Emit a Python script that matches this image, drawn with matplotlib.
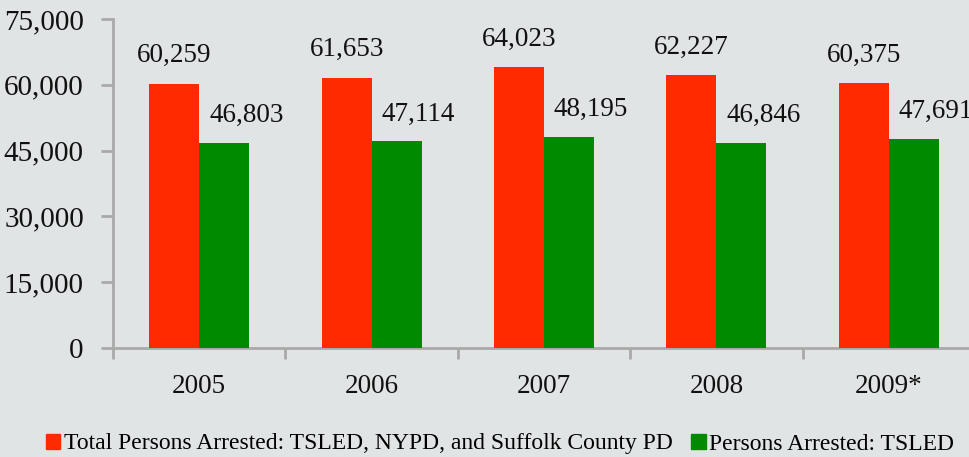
import numpy as np
import matplotlib.pyplot as plt
from matplotlib.patches import Patch

years = ['2005', '2006', '2007', '2008', '2009*']
total_arrested = [60259, 61653, 64023, 62227, 60375]
tsled_arrested = [46803, 47114, 48195, 46846, 47691]
series_names = ['Total Persons Arrested: TSLED, NYPD, and Suffolk County PD',
                'Persons Arrested: TSLED']
y_ticks = [0, 15000, 30000, 45000, 60000, 75000]

BG = '#e1e4e5'
RED = '#ff2a00'
GREEN = '#008a00'
AXIS = '#a9a9a9'

plt.rcParams['font.family'] = ['Liberation Serif', 'DejaVu Serif']

fig = plt.figure(figsize=(9.69, 4.57), dpi=100, facecolor=BG)
ax = fig.add_axes([113 / 969, 1 - 348 / 457, 5 * 172.4 / 969, 329 / 457])
ax.set_facecolor(BG)

x = np.arange(len(years))
w = 0.29
ax.bar(x - w / 2, total_arrested, w, color=RED, zorder=3)
ax.bar(x + w / 2, tsled_arrested, w, color=GREEN, zorder=3)

# подписи значений над столбцами
for i in range(len(years)):
    ax.annotate(f'{total_arrested[i]:,}', (x[i] - w / 2, total_arrested[i]),
                xytext=(0, 28), textcoords='offset pixels',
                ha='center', va='center', fontsize=19.5, color='#111111')
    ax.annotate(f'{tsled_arrested[i]:,}', (x[i] + w / 2, tsled_arrested[i]),
                xytext=(22, 27), textcoords='offset pixels',
                ha='center', va='center', fontsize=19.5, color='#111111')

ax.set_xlim(-0.5, len(years) - 0.5)
ax.set_ylim(0, 75000)
ax.set_yticks(y_ticks)
ax.set_yticklabels([f'{v:,}' for v in y_ticks], fontsize=21, color='#111111')
ax.set_xticks(np.arange(len(years) + 1) - 0.5)
ax.set_xticklabels([])
ax.set_xticks(x, minor=True)
ax.set_xticklabels(years, minor=True, fontsize=19.5, color='#111111')
ax.tick_params(axis='x', which='minor', length=0, pad=19)
ax.tick_params(axis='x', which='major', length=8, width=2, color=AXIS, direction='out')
ax.tick_params(axis='y', length=9, width=2, color=AXIS, pad=12)

for s in ['top', 'right']:
    ax.spines[s].set_visible(False)
for s in ['left', 'bottom']:
    ax.spines[s].set_color(AXIS)
    ax.spines[s].set_linewidth(2)

handles = [Patch(color=RED), Patch(color=GREEN)]
fig.legend(handles, series_names, loc='center', bbox_to_anchor=(500 / 969, 1 - 444 / 457),
           ncol=2, frameon=False, fontsize=17, handlelength=0.6, handleheight=0.6,
           handletextpad=0.15, columnspacing=0.8, borderpad=0)

fig.savefig('out.png', dpi=100, facecolor=BG)
